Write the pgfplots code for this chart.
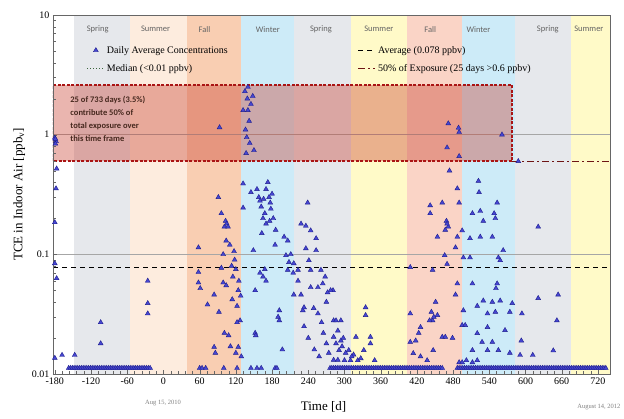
\documentclass[border=0pt]{standalone}
\usepackage{pgfplots}
\pgfplotsset{compat=1.18}
\usepackage{fontspec}
\setmainfont{Liberation Serif}
\newfontfamily\calfont{Carlito}
\definecolor{sprgray}{RGB}{230,232,236}
\definecolor{sumpeach}{RGB}{253,236,222}
\definecolor{fallorange}{RGB}{249,206,178}
\definecolor{winblue}{RGB}{205,235,248}
\definecolor{sumyellow}{RGB}{255,250,200}
\definecolor{fallsalmon}{RGB}{250,212,198}
\definecolor{boxred}{RGB}{200,60,45}
\definecolor{darkred}{RGB}{170,20,20}
\definecolor{fiftyred}{RGB}{110,20,20}
\definecolor{markfill}{RGB}{70,70,210}
\definecolor{markdraw}{RGB}{30,30,140}
\definecolor{seasongray}{RGB}{100,100,100}
\begin{document}
\begin{tikzpicture}
\path[use as bounding box] (-53pt,-44pt) rectangle (571pt,374pt);
\begin{axis}[
  scale only axis, width=557pt, height=359pt,
  at={(0,0)}, anchor=south west,
  ymode=log, xmin=-183, xmax=740, ymin=0.01, ymax=10,
  axis on top,
  axis line style={draw=gray!80!black},
  xtick={-180,-120,-60,0,60,120,180,240,300,360,420,480,540,600,660,720},
  xticklabels={-180,-120,-60,0,60,120,180,240,300,360,420,480,540,600,660,720},
  minor x tick num=4,
  ytick={0.01,0.1,1,10}, yticklabels={0.01,0.1,1,10},
  tick style={gray!80!black},
  tick align=inside,
  xtick pos=bottom, ytick pos=left,
  tick label style={font=\fontsize{10}{12}\selectfont},
  xlabel={Time [d]},
  ylabel={TCE in Indoor Air [ppb\textsubscript{v}]},
  label style={font=\fontsize{13}{15}\selectfont},
  xlabel style={yshift=-10pt, xshift=-8pt},
  legend columns=2,
  legend cell align=left,
  legend style={draw=none, fill=none, at={(0.055,0.925)}, anchor=north west,
    font=\fontsize{10}{12}\selectfont, row sep=6pt,
    /tikz/every even column/.append style={column sep=128pt}},
]
% season bands
\fill[sprgray] (axis cs:-148,0.01) rectangle (axis cs:-55,10);
\fill[sumpeach] (axis cs:-55,0.01) rectangle (axis cs:39,10);
\fill[fallorange] (axis cs:39,0.01) rectangle (axis cs:128,10);
\fill[winblue] (axis cs:128,0.01) rectangle (axis cs:217,10);
\fill[sprgray] (axis cs:217,0.01) rectangle (axis cs:310,10);
\fill[sumyellow] (axis cs:310,0.01) rectangle (axis cs:404,10);
\fill[fallsalmon] (axis cs:404,0.01) rectangle (axis cs:494,10);
\fill[winblue] (axis cs:494,0.01) rectangle (axis cs:583,10);
\fill[sprgray] (axis cs:583,0.01) rectangle (axis cs:675,10);
\fill[sumyellow] (axis cs:675,0.01) rectangle (axis cs:740,10);
% grid lines
\draw[gray!70] (axis cs:-183,0.1) -- (axis cs:740,0.1);
\draw[gray!70] (axis cs:-183,1) -- (axis cs:740,1);
% season labels
\begin{scope}[every node/.style={font=\calfont\fontsize{8.5}{10}\selectfont, text=seasongray}]
\node at (axis cs:-109,7.6) {Spring};
\node at (axis cs:-13,7.6) {Summer};
\node at (axis cs:68,7.6) {Fall};
\node at (axis cs:173,7.6) {Winter};
\node at (axis cs:261,7.6) {Spring};
\node at (axis cs:357,7.6) {Summer};
\node at (axis cs:442,7.6) {Fall};
\node at (axis cs:522,7.6) {Winter};
\node at (axis cs:637,7.6) {Spring};
\node at (axis cs:705,7.6) {Summer};
\end{scope}
% data
\addplot[only marks, mark=triangle*, mark size=2.8pt,
  mark options={fill=markfill, draw=markdraw, line width=0.4pt}] coordinates {
(-180,0.94) (-178,0.88) (-179,0.84) (-179,0.92) (-177,0.52) (-178,0.355) (-180,0.185) (-180,0.084) (-177,0.063) (-180,0.0136) (-168,0.0144)
(-147,0.0144) (-104,0.027) (-104,0.018) (-26,0.06) (-26,0.039) (-26,0.032)
(-157,0.0112) (-154,0.0112) (-151,0.0112) (-148,0.0112) (-145,0.0112) (-142,0.0112) (-139,0.0112) (-136,0.0112) (-133,0.0112) (-130,0.0112)
(-127,0.0112) (-124,0.0112) (-121,0.0112) (-118,0.0112) (-115,0.0112) (-112,0.0112) (-109,0.0112) (-106,0.0112) (-103,0.0112) (-100,0.0112)
(-97,0.0112) (-94,0.0112) (-91,0.0112) (-88,0.0112) (-85,0.0112) (-82,0.0112) (-79,0.0112) (-76,0.0112) (-73,0.0112) (-70,0.0112)
(-67,0.0112) (-64,0.0112) (-61,0.0112) (-58,0.0112) (-55,0.0112) (-52,0.0112) (-49,0.0112) (-46,0.0112) (-43,0.0112) (-40,0.0112)
(-37,0.0112) (-34,0.0112) (-31,0.0112) (-28,0.0112) (-25,0.0112) (-22,0.0112)
(58,0.114) (58,0.071) (58,0.058) (61,0.052) (73,0.038) (84,0.046) (84,0.0168) (86,0.015) (91,0.30) (93,1.15)
(96,0.22) (101,0.17) (103,0.19) (105,0.18) (107,0.17) (104,0.13) (99,0.10) (96,0.077) (99,0.058) (104,0.055)
(92,0.033) (101,0.022) (108,0.021) (117,0.106) (120,0.075) (124,0.05) (122,0.037) (127,0.028) (114,0.042) (111,0.017)
(120,0.015) (129,0.014) (122,0.027) (124,0.0168) (115,0.065) (118,0.09) (125,0.06) (128,0.045) (110,0.12) (113,0.08)
(60,0.0112) (64,0.0112) (70,0.0112) (100,0.0112) (122,0.0112)
(135,2.3) (140,2.5) (148,2.1) (132,1.6) (140,1.6) (136,1.1) (138,0.95) (142,1.3) (145,1.8) (139,2.0) (150,0.74) (143,0.85) (137,0.7)
(132,0.39) (132,0.245) (145,0.33) (149,0.108) (152,0.05) (152,0.022) (153,0.021) (155,0.35) (158,0.3) (160,0.28)
(162,0.25) (165,0.2) (168,0.22) (170,0.18) (163,0.15) (173,0.4) (175,0.3) (177,0.27) (178,0.24) (180,0.32)
(170,0.35) (166,0.29) (160,0.07) (165,0.065) (170,0.06) (168,0.075) (190,0.03) (192,0.028) (197,0.016) (200,0.14)
(206,0.13) (203,0.098) (211,0.1) (208,0.086) (216,0.084) (206,0.074) (215,0.07) (216,0.046) (192,0.034) (182,0.2)
(186,0.16) (176,0.19) (185,0.12)
(145,0.0112) (155,0.0112) (162,0.0112) (185,0.0112) (188,0.0112)
(223,0.074) (223,0.06) (228,0.046) (233,0.025) (231,0.034) (239,0.27) (228,0.18) (236,0.173) (244,0.158) (253,0.136)
(236,0.112) (253,0.108) (241,0.089) (244,0.074) (261,0.074) (256,0.053) (264,0.057) (244,0.053) (249,0.0355) (256,0.032)
(233,0.036) (281,0.05) (282,0.028) (289,0.023) (286,0.018) (291,0.0158) (282,0.0131) (277,0.05) (286,0.028) (294,0.028)
(282,0.0204) (294,0.019) (307,0.0158) (319,0.0204) (302,0.015) (289,0.0131) (268,0.065) (272,0.048) (270,0.04)
(240,0.02) (250,0.016) (258,0.014) (265,0.022) (270,0.018) (274,0.015) (262,0.027) (298,0.02) (300,0.013) (296,0.017) (310,0.013) (315,0.0145)
(332,0.0158) (335,0.036) (335,0.031) (343,0.0204) (343,0.018) (322,0.013) (312,0.014) (327,0.0135) (350,0.013)
(276,0.0112) (279,0.0112) (282,0.0112) (285,0.0112) (288,0.0112) (291,0.0112) (294,0.0112) (297,0.0112) (300,0.0112) (303,0.0112)
(306,0.0112) (309,0.0112) (312,0.0112) (315,0.0112) (318,0.0112) (321,0.0112) (324,0.0112) (327,0.0112) (330,0.0112) (333,0.0112)
(336,0.0112) (339,0.0112) (342,0.0112) (345,0.0112) (348,0.0112) (351,0.0112) (354,0.0112) (357,0.0112) (360,0.0112) (363,0.0112)
(366,0.0112) (369,0.0112) (372,0.0112) (375,0.0112) (378,0.0112) (381,0.0112) (384,0.0112) (387,0.0112) (390,0.0112) (393,0.0112)
(396,0.0112) (399,0.0112) (402,0.0112) (405,0.0112) (408,0.0112) (411,0.0112) (414,0.0112) (417,0.0112) (420,0.0112) (423,0.0112)
(426,0.0112) (429,0.0112) (432,0.0112) (435,0.0112) (438,0.0112) (441,0.0112) (444,0.0112) (447,0.0112) (450,0.0112) (453,0.0112)
(456,0.0112) (459,0.0112) (462,0.0112)
(409,0.032) (409,0.078) (446,0.074) (442,0.256) (442,0.22) (462,0.27) (469,0.19) (472,0.17) (467,0.16) (454,0.14)
(466,0.098) (470,0.083) (446,0.028) (454,0.031) (426,0.0246) (423,0.022) (418,0.019) (409,0.0185) (447,0.0158) (462,0.0204)
(467,0.0204) (414,0.0149) (426,0.014) (437,0.013) (479,0.02) (472,1.24) (489,1.14) (490,1.05) (470,0.78) (490,0.66)
(474,0.5) (448,0.03) (444,0.033) (441,0.028) (451,0.04) (470,0.18)
(487,0.355) (490,0.27) (487,0.14) (484,0.114) (495,0.158) (508,0.136) (512,0.22) (522,0.41) (523,0.33) (525,0.23)
(530,0.19) (525,0.14) (545,0.14) (548,0.22) (550,0.2) (553,0.27) (555,0.094) (563,0.108) (558,0.089) (497,0.094)
(508,0.094) (487,0.057) (512,0.057) (553,0.057) (551,0.052) (484,0.046) (530,0.041) (545,0.04) (558,0.041) (578,0.039)
(520,0.037) (537,0.032) (550,0.033) (574,0.033) (594,0.032) (497,0.034) (495,0.0256) (500,0.0256) (537,0.0246) (566,0.0232)
(520,0.0219) (528,0.0185) (545,0.0185) (512,0.0158) (537,0.0158) (555,0.0158) (574,0.015) (591,0.0144) (612,0.0144) (490,0.0125)
(495,0.0125) (502,0.013) (512,0.0125) (520,0.013) (561,1.0) (588,0.6)
(621,0.17) (621,0.043) (654,0.046) (652,0.028) (646,0.0157) (593,0.019)
(487,0.0112) (490,0.0112) (493,0.0112) (496,0.0112) (499,0.0112) (502,0.0112) (505,0.0112) (508,0.0112) (511,0.0112) (514,0.0112)
(517,0.0112) (520,0.0112) (523,0.0112) (526,0.0112) (529,0.0112) (532,0.0112) (535,0.0112) (538,0.0112) (541,0.0112) (544,0.0112)
(547,0.0112) (550,0.0112) (553,0.0112) (556,0.0112) (559,0.0112) (562,0.0112) (565,0.0112) (568,0.0112) (571,0.0112) (574,0.0112)
(577,0.0112) (580,0.0112) (583,0.0112) (586,0.0112) (589,0.0112) (592,0.0112) (595,0.0112) (598,0.0112) (601,0.0112) (604,0.0112)
(607,0.0112) (610,0.0112) (613,0.0112) (616,0.0112) (619,0.0112) (622,0.0112) (625,0.0112) (628,0.0112) (631,0.0112) (634,0.0112)
(637,0.0112) (640,0.0112) (643,0.0112) (646,0.0112) (649,0.0112) (652,0.0112) (655,0.0112) (658,0.0112) (661,0.0112) (664,0.0112)
(667,0.0112) (670,0.0112) (673,0.0112) (676,0.0112) (679,0.0112) (682,0.0112) (685,0.0112) (688,0.0112) (691,0.0112) (694,0.0112)
(697,0.0112) (700,0.0112) (703,0.0112) (706,0.0112) (709,0.0112) (712,0.0112) (715,0.0112) (718,0.0112) (721,0.0112) (724,0.0112)
(727,0.0112) (730,0.0112) (733,0.0112)
};
\addlegendentry{Daily Average Concentrations}
\addplot[black, line width=1pt, dash pattern=on 5pt off 4pt] coordinates {(-183,0.078) (740,0.078)};
\addlegendentry{Average (0.078 ppbv)}
\addlegendimage{color={rgb,255:red,60;green,100;blue,60}, line width=1pt, dotted}
\addlegendentry{Median (<0.01 ppbv)}
\addplot[fiftyred, line width=1.2pt, dash pattern=on 7pt off 3pt on 2pt off 3pt] coordinates {(578,0.6) (740,0.6)};
\addlegendentry{50\% of Exposure (25 days >0.6 ppbv)}
% exposure box
\fill[boxred, opacity=0.38] (axis cs:-183,0.6) rectangle (axis cs:578,2.6);
\draw[darkred, line width=1.6pt, dash pattern=on 3pt off 1.5pt] (axis cs:-183,0.6) rectangle (axis cs:578,2.6);
\node[anchor=north west, align=left, font=\calfont\bfseries\fontsize{8.5}{13}\selectfont, text={rgb,255:red,70;green,40;blue,30}]
  at (axis cs:-160,2.25) {25 of 733 days (3.5\%)\\contribute 50\% of\\total exposure over\\this time frame};
\end{axis}
\node[font=\fontsize{6.5}{8}\selectfont, text=gray] at (110pt,-29pt) {Aug 15, 2010};
\node[font=\fontsize{6.5}{8}\selectfont, text=gray, anchor=east] at (571pt,-33pt) {August 14, 2012};
\end{tikzpicture}
\end{document}
